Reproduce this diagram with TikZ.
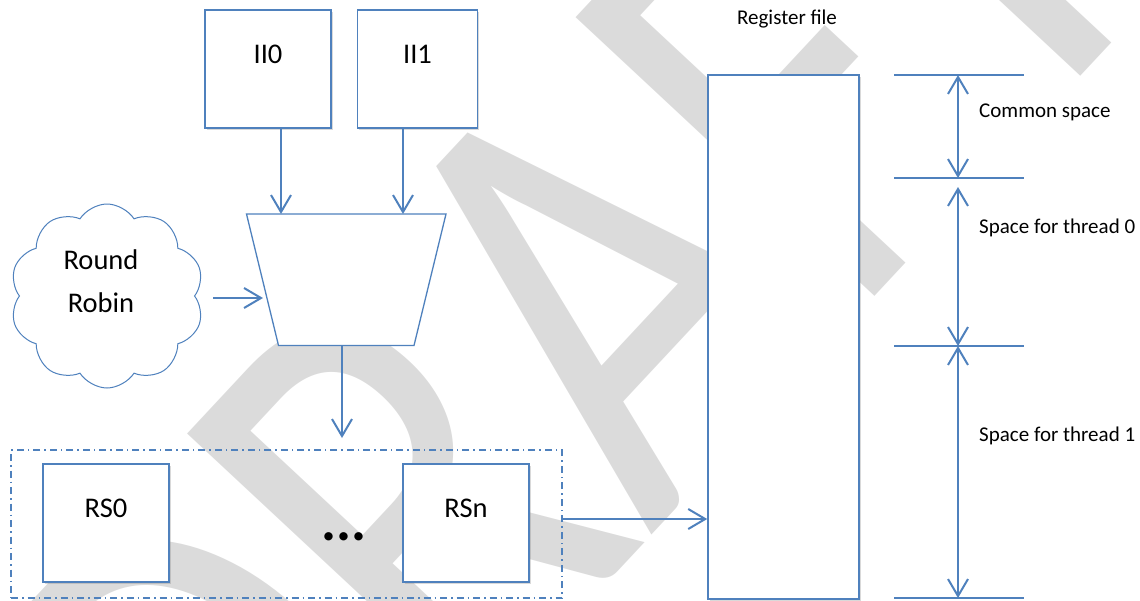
\documentclass[tikz,border=0pt]{standalone}
\usepackage{fontspec}
\setmainfont{Carlito}
\usepackage{xcolor}
\usetikzlibrary{positioning, shapes.geometric, shapes.symbols, arrows.meta, shadows}
\definecolor{lineblue}{HTML}{4F81BD}

\begin{document}
\begin{tikzpicture}[x=1pt, y=-1pt,
        % Define the styles for boxes, arrows and labels
        bigfont/.style={font=\fontsize{28.5}{43}\selectfont},
        smallfont/.style={font=\fontsize{21}{25}\selectfont},
        box/.style={draw=lineblue, line width=1.6pt, fill=white, inner sep=0pt,
            minimum width=126pt, minimum height=118pt, bigfont,
            text height=20pt, text depth=31pt,
            drop shadow={shadow xshift=1.5pt, shadow yshift=-2pt, opacity=0.3}},
        arr/.style={lineblue, line width=2pt, -{Straight Barb[length=17pt, width=20pt]}},
        dimarr/.style={lineblue, line width=2pt,
            {Straight Barb[length=17pt, width=20pt]}-{Straight Barb[length=17pt, width=20pt]}},
        dimline/.style={lineblue, line width=1.5pt},
        watermark/.style={text=black!14, inner sep=0pt, font=\fontsize{637}{637}\selectfont}]

        \useasboundingbox (0,0) rectangle (1140,600);

        % 1. The watermark behind everything
        \node[watermark, rotate=47, xscale=0.8] (draft) at (565,329) {DRAFT};

        % 2. Instruction inputs, multiplexer and round robin
        \node[box] (ii0) at (268,69) {II0};
        \node[box, minimum width=120pt] (ii1) at (417.5,69) {II1};

        \coordinate (mtl) at (246.5,214);
        \coordinate (mtr) at (446,214);
        \coordinate (mbr) at (414,345.5);
        \coordinate (mbl) at (278.5,345.5);
        \draw[lineblue, line width=1.3pt, fill=white] (mtl) -- (mtr) -- (mbr) -- (mbl) -- cycle;

        \node[cloud, draw=lineblue, line width=1pt, fill=white, cloud puffs=10,
            cloud puff arc=115, minimum width=194pt, minimum height=184pt] (rr) at (107,296) {};
        \node[bigfont, align=center, inner sep=0pt] (rrtext) at (101,281) {Round\\Robin};

        \coordinate (in0) at (281,214);
        \coordinate (in1) at (403,214);
        \coordinate (rrout) at (213,298);
        \coordinate (rrin) at (263,298);
        \coordinate (muxout) at (342,438);

        \draw[arr] (ii0.south -| in0) -- (in0);
        \draw[arr] (ii1.south -| in1) -- (in1);
        \draw[arr] (rrout) -- (rrin);
        \draw[arr] (mbl -| muxout) -- (muxout);

        % 3. Reservation stations
        \node[draw=lineblue, line width=1.3pt, dash pattern=on 7pt off 4pt on 1.5pt off 4pt,
            minimum width=551pt, minimum height=148pt, inner sep=0pt] (rsgrp) at (286.5,524) {};
        \node[box, text depth=32pt] (rs0) at (106,523) {RS0};
        \node[box, text depth=32pt] (rsn) at (466,523) {RSn};
        \node[inner sep=0pt, font=\fontsize{56}{56}\selectfont\bfseries] (dots) at (344,537) {...};

        % 4. Register file and its spaces
        \node[box, minimum width=151pt, minimum height=524pt] (rf) at (783.5,337) {};
        \node[smallfont, inner sep=0pt] (rftitle) at (787,19) {Register file};
        \draw[arr] ([yshift=5pt]rsgrp.east) -- ([yshift=5pt]rsgrp.east -| rf.west);

        \foreach \y [count=\i from 0] in {75,178,346,598} {
            \coordinate (d\i) at (958,\y);
            \draw[dimline] ([xshift=-64pt]d\i) -- ([xshift=66pt]d\i);
        }
        \draw[dimarr] (d0) -- (d1);
        \draw[dimarr] ([yshift=-9pt]d1) -- (d2);
        \draw[dimarr] (d2) -- (d3);

        \node[smallfont, anchor=west, inner sep=0pt] (common) at (979,112) {Common space};
        \node[smallfont, anchor=west, inner sep=0pt] (thread0) at (979,228) {Space for thread 0};
        \node[smallfont, anchor=west, inner sep=0pt] (thread1) at (979,436) {Space for thread 1};
    \end{tikzpicture}
\end{document}
